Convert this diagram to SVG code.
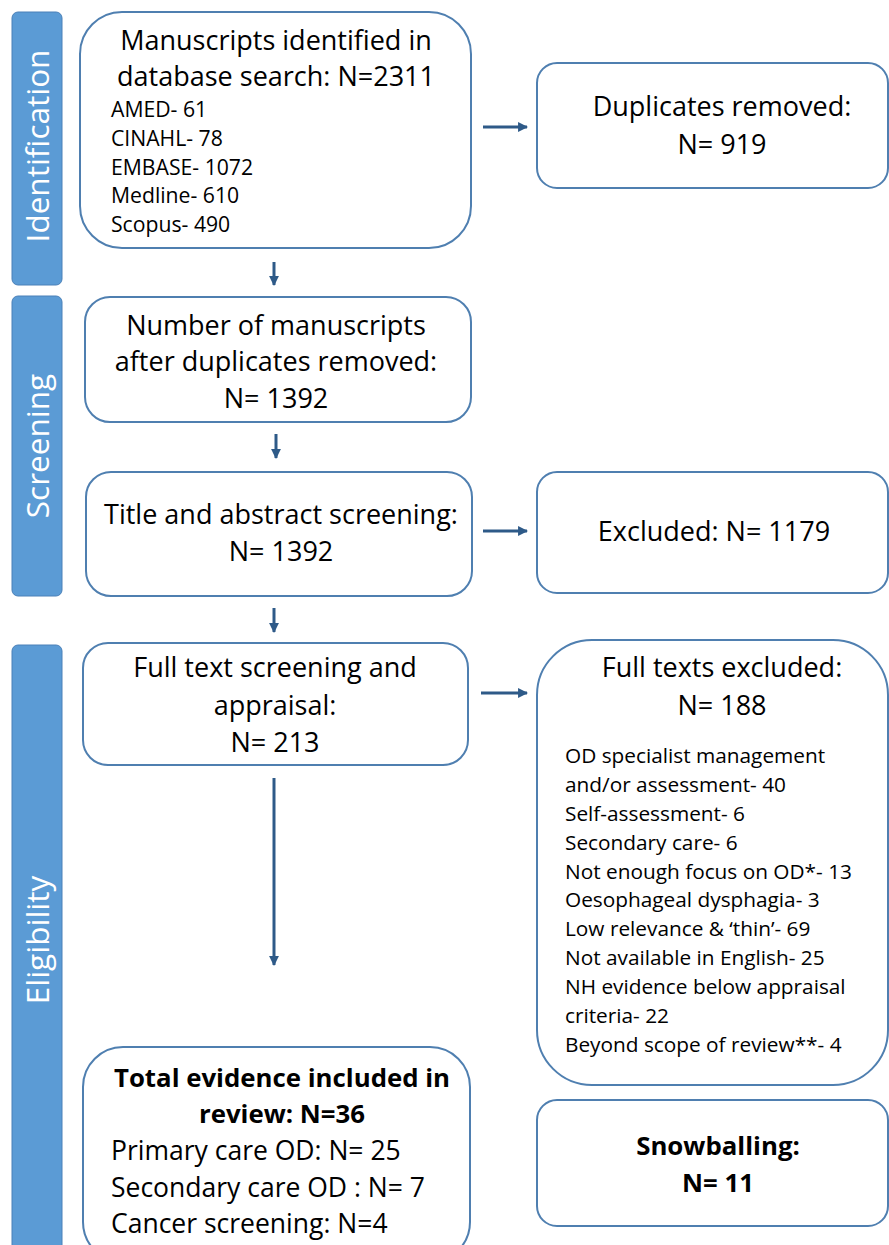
<svg xmlns="http://www.w3.org/2000/svg" width="889" height="1245" viewBox="0 0 889 1245">
<style>
.bar{fill:#5B9BD5;stroke:#4A80B8;stroke-width:1}
.box{fill:#fff;stroke:#4F7FB0;stroke-width:2}
.bt{font-family:"Open Sans","DejaVu Sans",sans-serif;fill:#fff;font-size:31.5px;text-anchor:middle}
.t{font-family:"Open Sans","DejaVu Sans",sans-serif;fill:#000;font-size:27px;text-anchor:middle}
.s{font-family:"Open Sans","DejaVu Sans",sans-serif;fill:#000;font-size:21.2px}
.s2{font-family:"Open Sans","DejaVu Sans",sans-serif;fill:#000;font-size:20.8px}
.m{font-family:"Open Sans","DejaVu Sans",sans-serif;fill:#000;font-size:26.5px}
.tb{font-family:"Open Sans","DejaVu Sans",sans-serif;fill:#000;font-size:25.8px;text-anchor:middle;font-weight:bold}
.ar{stroke:#2E5A88;stroke-width:3;fill:none}
</style>
<defs>
<marker id="ah" viewBox="0 0 10 10" refX="9" refY="5" markerWidth="3.3" markerHeight="3.3" orient="auto" markerUnits="strokeWidth">
<path d="M0,0 L10,5 L0,10 z" fill="#2E5A88"/>
</marker>
</defs>
<rect width="889" height="1245" fill="#fff"/>
<g id="bar-identification">
<rect class="bar" x="12" y="12" width="50" height="273" rx="6"/>
<text class="bt" transform="translate(49,146) rotate(-90)">Identification</text>
</g>
<g id="bar-screening">
<rect class="bar" x="12" y="296" width="50" height="300" rx="6"/>
<text class="bt" transform="translate(49,446) rotate(-90)">Screening</text>
</g>
<g id="bar-eligibility">
<rect class="bar" x="12" y="645" width="50" height="620" rx="6"/>
<text class="bt" transform="translate(49,940) rotate(-90)">Eligibility</text>
</g>
<g id="connectors">
<line class="ar" x1="483" y1="127" x2="527" y2="127" marker-end="url(#ah)"/>
<line class="ar" x1="274" y1="262" x2="274" y2="285" marker-end="url(#ah)"/>
<line class="ar" x1="276" y1="434" x2="276" y2="458" marker-end="url(#ah)"/>
<line class="ar" x1="483" y1="531" x2="527" y2="531" marker-end="url(#ah)"/>
<line class="ar" x1="274" y1="608" x2="274" y2="632" marker-end="url(#ah)"/>
<line class="ar" x1="481" y1="693" x2="527" y2="693" marker-end="url(#ah)"/>
<line class="ar" x1="274" y1="778" x2="274" y2="965" marker-end="url(#ah)"/>
</g>
<g id="n-identified">
<rect class="box" x="80" y="12" width="391" height="236" rx="42"/>
<text class="t" x="276" y="50">Manuscripts identified in</text>
<text class="t" x="276" y="86">database search: N=2311</text>
<text class="s" x="111" y="117">AMED- 61</text>
<text class="s" x="111" y="146">CINAHL- 78</text>
<text class="s" x="111" y="175">EMBASE- 1072</text>
<text class="s" x="111" y="203">Medline- 610</text>
<text class="s" x="111" y="232">Scopus- 490</text>
</g>
<g id="n-duplicates">
<rect class="box" x="537" y="63" width="351" height="125" rx="20"/>
<text class="t" x="722" y="116">Duplicates removed:</text>
<text class="t" x="722" y="154">N= 919</text>
</g>
<g id="n-after-dup">
<rect class="box" x="85" y="297" width="386" height="125" rx="25"/>
<text class="t" x="276" y="335">Number of manuscripts</text>
<text class="t" x="276" y="371">after duplicates removed:</text>
<text class="t" x="276" y="408">N= 1392</text>
</g>
<g id="n-title-abstract">
<rect class="box" x="86" y="472" width="386" height="124" rx="25"/>
<text class="t" x="281" y="524">Title and abstract screening:</text>
<text class="t" x="281" y="561">N= 1392</text>
</g>
<g id="n-excluded">
<rect class="box" x="537" y="472" width="351" height="121" rx="20"/>
<text class="t" x="714" y="541">Excluded: N= 1179</text>
</g>
<g id="n-fulltext">
<rect class="box" x="83" y="643" width="385" height="122" rx="25"/>
<text class="t" x="275" y="677">Full text screening and</text>
<text class="t" x="275" y="715">appraisal:</text>
<text class="t" x="275" y="752">N= 213</text>
</g>
<g id="n-fulltext-excluded">
<rect class="box" x="537" y="640" width="351" height="445" rx="55"/>
<text class="t" x="722" y="677">Full texts excluded:</text>
<text class="t" x="722" y="715">N= 188</text>
<text class="s2" x="565" y="763">OD specialist management</text>
<text class="s2" x="565" y="792">and/or assessment- 40</text>
<text class="s2" x="565" y="821">Self-assessment- 6</text>
<text class="s2" x="565" y="850">Secondary care- 6</text>
<text class="s2" x="565" y="879">Not enough focus on OD*- 13</text>
<text class="s2" x="565" y="907">Oesophageal dysphagia- 3</text>
<text class="s2" x="565" y="936">Low relevance &amp; ‘thin’- 69</text>
<text class="s2" x="565" y="965">Not available in English- 25</text>
<text class="s2" x="565" y="994">NH evidence below appraisal</text>
<text class="s2" x="565" y="1023">criteria- 22</text>
<text class="s2" x="565" y="1052">Beyond scope of review**- 4</text>
</g>
<g id="n-total">
<rect class="box" x="83" y="1047" width="387" height="215" rx="40"/>
<text class="tb" x="282" y="1087">Total evidence included in</text>
<text class="tb" x="282" y="1123">review: N=36</text>
<text class="m" x="111" y="1160">Primary care OD: N= 25</text>
<text class="m" x="111" y="1197">Secondary care OD : N= 7</text>
<text class="m" x="111" y="1233">Cancer screening: N=4</text>
</g>
<g id="n-snowballing">
<rect class="box" x="537" y="1100" width="351" height="126" rx="20"/>
<text class="tb" x="718" y="1155">Snowballing:</text>
<text class="tb" x="718" y="1192">N= 11</text>
</g>
</svg>
